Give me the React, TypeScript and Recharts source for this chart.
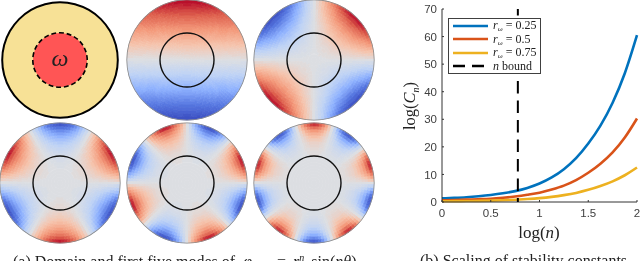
import React from "react";
import { PieChart, Pie, LineChart, Line, XAxis, YAxis, ReferenceLine, Legend } from "recharts";

// ---- right panel -----
const logN = [0, 0.125, 0.25, 0.375, 0.5, 0.625, 0.75, 0.875, 1, 1.125, 1.25, 1.375, 1.5, 1.625, 1.75, 1.875, 2];
const seriesA = [1.3, 1.5, 1.75, 2.1, 2.55, 3.15, 3.95, 5.1, 6.7, 8.9, 11.9, 15.9, 21.2, 27.7, 36, 46.7, 60.5];
const seriesB = [0.6, 0.7, 0.85, 1.0, 1.2, 1.55, 2, 2.6, 3.35, 4.5, 5.95, 7.95, 10.6, 13.9, 18, 23.4, 30.3];
const seriesC = [0.25, 0.3, 0.35, 0.42, 0.5, 0.64, 0.82, 1.07, 1.4, 1.87, 2.5, 3.3, 4.4, 5.8, 7.5, 9.7, 12.5];
const xTicks = [0, 0.5, 1, 1.5, 2];
const yTicks = [0, 10, 20, 30, 40, 50, 60, 70];
const nBound = 0.778;
const legendValues = ["0.25", "0.5", "0.75"];
const lineColors = ["#0072bd", "#d95319", "#edb120"];
const lineRows = logN.map((x, i) => ({ x, a: seriesA[i], b: seriesB[i], c: seriesC[i] }));

// ---- left panels: rim-normalised mode fields -----
const modes = [1, 2, 3, 4, 5];
// sine samples every 3 degrees
const sineTable = [
  0, 0.052, 0.105, 0.156, 0.208, 0.259, 0.309, 0.358, 0.407, 0.454, 0.5, 0.545, 0.588, 0.629, 0.669, 0.707, 0.743, 0.777, 0.809, 0.839, 0.866, 0.891, 0.914, 0.934, 0.951, 0.966, 0.978, 0.988, 0.995, 0.999,
  1, 0.999, 0.995, 0.988, 0.978, 0.966, 0.951, 0.934, 0.914, 0.891, 0.866, 0.839, 0.809, 0.777, 0.743, 0.707, 0.669, 0.629, 0.588, 0.545, 0.5, 0.454, 0.407, 0.358, 0.309, 0.259, 0.208, 0.156, 0.105, 0.052,
  0, -0.052, -0.105, -0.156, -0.208, -0.259, -0.309, -0.358, -0.407, -0.454, -0.5, -0.545, -0.588, -0.629, -0.669, -0.707, -0.743, -0.777, -0.809, -0.839, -0.866, -0.891, -0.914, -0.934, -0.951, -0.966, -0.978, -0.988, -0.995, -0.999,
  -1, -0.999, -0.995, -0.988, -0.978, -0.966, -0.951, -0.934, -0.914, -0.891, -0.866, -0.839, -0.809, -0.777, -0.743, -0.707, -0.669, -0.629, -0.588, -0.545, -0.5, -0.454, -0.407, -0.358, -0.309, -0.259, -0.208, -0.156, -0.105, -0.052,
];
// strength from centre to rim, one list per mode
const radialA = [0.025, 0.075, 0.125, 0.175, 0.225, 0.275, 0.325, 0.375, 0.425, 0.475, 0.525, 0.575, 0.625, 0.675, 0.725, 0.775, 0.825, 0.875, 0.925, 0.975];
const radialB = [0.001, 0.006, 0.016, 0.031, 0.051, 0.076, 0.106, 0.141, 0.181, 0.226, 0.276, 0.331, 0.391, 0.456, 0.526, 0.601, 0.681, 0.766, 0.856, 0.951];
const radialC = [0, 0, 0.002, 0.005, 0.011, 0.021, 0.034, 0.053, 0.077, 0.107, 0.145, 0.19, 0.244, 0.308, 0.381, 0.465, 0.561, 0.67, 0.791, 0.927];
const radialD = [0, 0, 0, 0.001, 0.003, 0.006, 0.011, 0.02, 0.033, 0.051, 0.076, 0.109, 0.153, 0.208, 0.276, 0.361, 0.463, 0.586, 0.732, 0.904];
const radialE = [0, 0, 0, 0, 0.001, 0.002, 0.004, 0.007, 0.014, 0.024, 0.04, 0.063, 0.095, 0.14, 0.2, 0.279, 0.382, 0.513, 0.677, 0.881];
const radials = [radialA, radialB, radialC, radialD, radialE];

const colorStops: number[][] = [
  [58, 76, 192], [87, 120, 225], [141, 176, 254], [190, 210, 245], [220, 222, 226],
  [245, 196, 173], [244, 154, 123], [222, 96, 77], [180, 4, 38],
];
function fieldColor(v: number) {
  const q = Math.round(v * 32) / 32;
  const t = (Math.max(-1, Math.min(1, q)) + 1) * 4;
  const i = Math.min(7, Math.floor(t));
  const f = t - i;
  const c = colorStops[i].map((s, k) => Math.round(s + (colorStops[i + 1][k] - s) * f));
  return `rgb(${c[0]},${c[1]},${c[2]})`;
}

const R = 60;
const ringW = 3;
const discCenters = [
  [187, 60],
  [314, 60],
  [60, 183],
  [187, 183],
  [314, 183],
];
const one = [{ v: 1 }];
const dashes = Array.from({ length: 22 }, () => ({ v: 1 }));

function ringCells(n: number, amp: number) {
  const cells: { v: number; fill: string; stroke: string }[] = [];
  sineTable.forEach((_, i) => {
    const col = fieldColor(amp * sineTable[(i * n) % 120]);
    const last = cells[cells.length - 1];
    if (last && last.fill === col) last.v += 1;
    else cells.push({ v: 1, fill: col, stroke: col });
  });
  return cells;
}

function modePies() {
  const out: React.ReactNode[] = [];
  modes.forEach((n, m) => {
    const [cx, cy] = discCenters[m];
    radials[m].forEach((amp, j) => {
      out.push(
        <Pie key={`m${m}r${j}`} data={ringCells(n, amp)} dataKey="v" cx={cx} cy={cy} startAngle={-1.5} endAngle={358.5}
          innerRadius={j * ringW} outerRadius={(j + 1) * ringW} strokeWidth={0.7} isAnimationActive={false} />
      );
    });
    out.push(
      <Pie key={`rim${m}`} data={one} dataKey="v" cx={cx} cy={cy} innerRadius={R - 0.2} outerRadius={R + 0.6} fill="#8a8a8a" stroke="none" isAnimationActive={false} />,
      <Pie key={`in${m}`} data={one} dataKey="v" cx={cx} cy={cy} innerRadius={26.3} outerRadius={27.7} fill="#111" stroke="none" isAnimationActive={false} />
    );
  });
  return out;
}

const serif = "'Liberation Serif', serif";
const sans = "'Liberation Sans', sans-serif";

function BoxLegend() {
  const sample = (color: string, dash?: boolean) => (
    <svg width={35} height={8} style={{ display: "block", flex: "none" }}>
      <line x1={0} x2={35} y1={4} y2={4} stroke={color} strokeWidth={2.4} strokeDasharray={dash ? "12 7" : undefined} />
    </svg>
  );
  const row: React.CSSProperties = { display: "flex", alignItems: "center", height: 13.5, gap: 5, whiteSpace: "nowrap" };
  return (
    <div style={{ width: 93, height: 56, boxSizing: "border-box", border: "1px solid #404040", background: "#fff", padding: "0 0 0 4px", fontFamily: serif, fontSize: 12, color: "#222" }}>
      {legendValues.map((v, i) => (
        <div key={v} style={row}>
          {sample(lineColors[i])}
          <span><i>r</i><sub style={{ fontSize: 7, verticalAlign: "-2px", lineHeight: 0 }}><i>ω</i></sub> = {v}</span>
        </div>
      ))}
      <div style={row}>
        {sample("#000", true)}
        <span><i>n</i> bound</span>
      </div>
    </div>
  );
}

export default function App() {
  return (
    <div style={{ position: "absolute", left: 0, top: 0, width: 640, height: 261, overflow: "hidden", background: "#fff", filter: "blur(0.55px)" }}>
      <div style={{ position: "absolute", left: 0, top: 0 }}>
        <PieChart width={640} height={261} margin={{ top: 0, right: 0, bottom: 0, left: 0 }}>
          <Pie data={one} dataKey="v" cx={60} cy={60} innerRadius={0} outerRadius={58} fill="#f7e196" stroke="none" isAnimationActive={false} />
          <Pie data={one} dataKey="v" cx={60} cy={60} innerRadius={0} outerRadius={27} fill="#ff5555" stroke="none" isAnimationActive={false} />
          <Pie data={one} dataKey="v" cx={60} cy={60} innerRadius={56.8} outerRadius={58.8} fill="#000" stroke="none" isAnimationActive={false} />
          <Pie data={dashes} dataKey="v" cx={60} cy={60} innerRadius={26.4} outerRadius={28} paddingAngle={6} fill="#000" stroke="none" isAnimationActive={false} />
          {modePies()}
        </PieChart>
      </div>
      <div style={{ position: "absolute", left: 0, top: 0 }}>
        <LineChart width={640} height={261} data={lineRows} margin={{ top: 9, right: 3, bottom: 29, left: 412 }}>
          <XAxis dataKey="x" type="number" domain={[0, 2]} ticks={xTicks} height={30} stroke="#333" tickSize={-2} tickMargin={9}
            tick={{ fill: "#404040", fontSize: 11.5, fontFamily: sans }} />
          <YAxis type="number" domain={[0, 70]} ticks={yTicks} width={30} stroke="#333" tickSize={-2} tickMargin={7}
            tick={{ fill: "#404040", fontSize: 11.5, fontFamily: sans }} />
          <Line dataKey="a" type="monotone" stroke={lineColors[0]} strokeWidth={2.6} dot={false} isAnimationActive={false} />
          <Line dataKey="b" type="monotone" stroke={lineColors[1]} strokeWidth={2.6} dot={false} isAnimationActive={false} />
          <Line dataKey="c" type="monotone" stroke={lineColors[2]} strokeWidth={2.6} dot={false} isAnimationActive={false} />
          <ReferenceLine x={nBound} stroke="#000" strokeWidth={2} strokeDasharray="12.5 7" strokeDashoffset={8.5} zIndex={600} />
          <Legend content={<BoxLegend />} layout="vertical" align="center" verticalAlign="middle" wrapperStyle={{ left: 448, top: 18, width: 93, height: 56 }} />
        </LineChart>
      </div>
      <div style={{ position: "absolute", left: 0, top: 0, width: 120, height: 120, lineHeight: "116px", textAlign: "center", fontFamily: serif, fontStyle: "italic", fontSize: 24, color: "#222" }}>ω</div>
      <div style={{ position: "absolute", left: 539 - 40, top: 223, width: 80, textAlign: "center", fontFamily: serif, fontSize: 17, color: "#222" }}>log(<i>n</i>)</div>
      <div style={{ position: "absolute", left: 410 - 40, top: 106 - 10, width: 80, textAlign: "center", fontFamily: serif, fontSize: 16.5, color: "#222", transform: "rotate(-90deg)" }}>log(<i>C</i><sub style={{ fontSize: 10, lineHeight: 0 }}><i>n</i></sub>)</div>
      <div style={{ position: "absolute", left: 13, top: 252, whiteSpace: "nowrap", fontFamily: serif, fontSize: 16, color: "#222" }}>(a) Domain and first five modes of <i style={{ marginLeft: 4 }}>φ</i><sub style={{ fontSize: 11, letterSpacing: 1 }}><i>n,ω</i></sub> <span style={{ marginLeft: 2 }}>=</span> <i style={{ marginLeft: 3 }}>r</i><sup style={{ fontSize: 10 }}><i>n</i></sup> <span style={{ marginLeft: 3 }}>sin(<i>nθ</i>)</span></div>
      <div style={{ position: "absolute", left: 420, top: 252, whiteSpace: "nowrap", fontFamily: serif, fontSize: 16, color: "#222" }}>(b) Scaling of stability constants</div>
    </div>
  );
}
